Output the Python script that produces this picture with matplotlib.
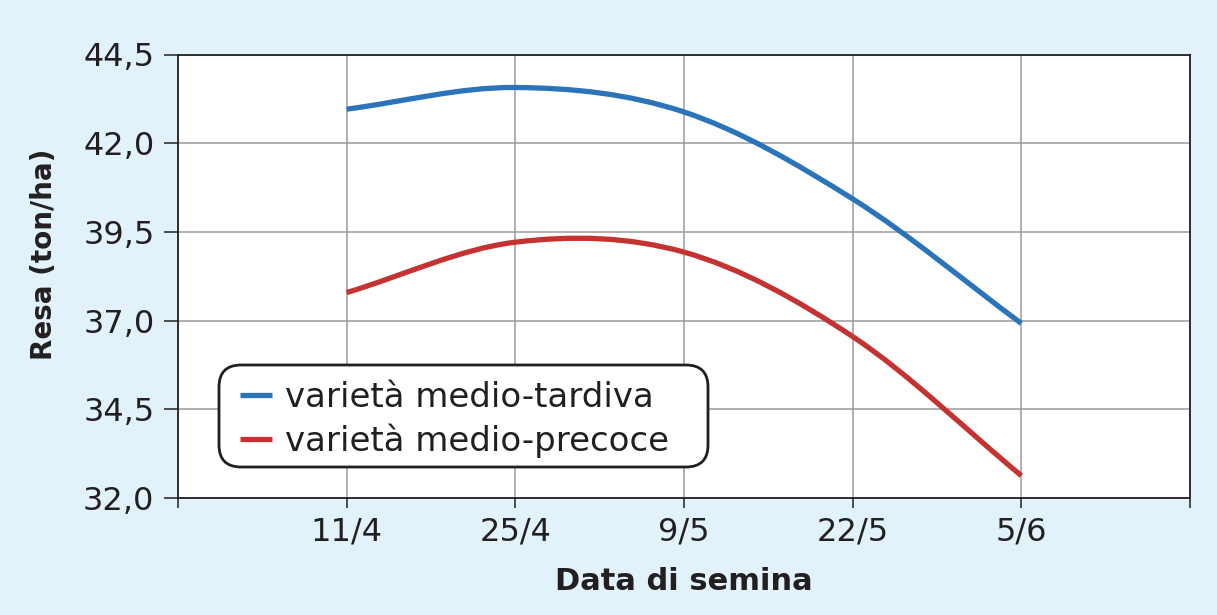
import numpy as np
import matplotlib
matplotlib.use("Agg")
import matplotlib.pyplot as plt
from matplotlib.path import Path
from matplotlib.patches import PathPatch, FancyBboxPatch
from matplotlib.lines import Line2D

# date di semina (categorie) e posizione lungo l'asse
date_labels = ['11/4', '25/4', '9/5', '22/5', '5/6']
date_pos = [1, 2, 3, 4, 5]

resa_tardiva = [42.96, 43.57, 42.88, 40.43, 36.92]
resa_precoce = [37.79, 39.21, 38.93, 36.55, 32.63]

y_ticks = [32.0, 34.5, 37.0, 39.5, 42.0, 44.5]
y_labels = ['32,0', '34,5', '37,0', '39,5', '42,0', '44,5']

bg = '#e1f2fb'
blue = '#2b74ba'
red = '#c43331'
dark = '#231f20'


def linea_smussata(x, y):
    # curva tipo "linea smussata" (catmull-rom -> bezier cubiche)
    p = np.column_stack([x, y]).astype(float)
    ext = np.vstack([2*p[0] - p[1], p, 2*p[-1] - p[-2]])
    verts = [p[0]]
    codes = [Path.MOVETO]
    for i in range(len(p) - 1):
        c1 = ext[i+1] + (ext[i+2] - ext[i]) / 6.0
        c2 = ext[i+2] - (ext[i+3] - ext[i+1]) / 6.0
        verts += [c1, c2, p[i+1]]
        codes += [Path.CURVE4] * 3
    return Path(verts, codes)


plt.rcParams['font.family'] = ['DejaVu Sans']

fig = plt.figure(figsize=(12.17, 6.15), dpi=100, facecolor=bg)
ax = fig.add_axes([178/1217, 1-498/615, (1190-178)/1217, (498-54.5)/615])
ax.set_facecolor('white')

for serie, col in [(resa_tardiva, blue), (resa_precoce, red)]:
    pp = PathPatch(linea_smussata(date_pos, serie), facecolor='none',
                   edgecolor=col, lw=3.8, capstyle='butt', zorder=3)
    ax.add_patch(pp)

ax.set_xlim(0, 6)
ax.set_ylim(32.0, 44.5)
ax.set_xticks([0] + date_pos + [6])
ax.set_xticklabels([''] + date_labels + [''])
ax.set_yticks(y_ticks)
ax.set_yticklabels(y_labels)
ax.grid(True, color='#9a9a9a', lw=1.1, zorder=0)

for s in ax.spines.values():
    s.set_color(dark)
    s.set_linewidth(1.3)

ax.tick_params(axis='y', length=10, width=1.1, color=dark, pad=7,
               labelsize=23, labelcolor=dark)
ax.tick_params(axis='x', length=7, width=1.1, color=dark, pad=6,
               labelsize=23, labelcolor=dark)

ax.set_xlabel('Data di semina', fontsize=22, fontweight='bold', color=dark,
              labelpad=14)
fig.text(44/1217, 1-254/615, 'Resa (ton/ha)', rotation=90, fontsize=20,
         fontweight='bold', color=dark, ha='center', va='center')

# riquadro arrotondato della legenda
box = FancyBboxPatch((2.19, 1.48), 4.89, 1.02,
                     boxstyle='round,pad=0,rounding_size=0.22',
                     transform=fig.dpi_scale_trans, facecolor='white',
                     edgecolor=dark, lw=2.0, zorder=4, clip_on=False)
ax.add_artist(box)

handles = [Line2D([], [], color=blue, lw=3.8, solid_capstyle='butt'),
           Line2D([], [], color=red, lw=3.8, solid_capstyle='butt')]
leg = ax.legend(handles, ['varietà medio-tardiva', 'varietà medio-precoce'],
                loc='upper left', bbox_to_anchor=(240/1217, 1-381/615),
                bbox_transform=fig.transFigure, fontsize=24.5, frameon=False,
                handlelength=0.95, handletextpad=0.38, labelspacing=0.28,
                borderpad=0, borderaxespad=0)
leg.set_zorder(5)
for t in leg.get_texts():
    t.set_color(dark)

fig.savefig('out.png', dpi=100, facecolor=bg)
